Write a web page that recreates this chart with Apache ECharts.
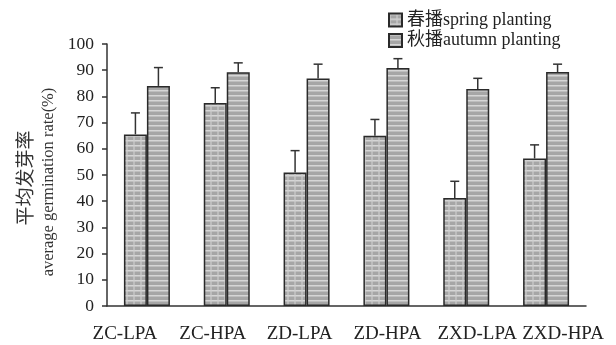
<!DOCTYPE html>
<html><head><meta charset="utf-8">
<script src="https://cdn.jsdelivr.net/npm/echarts@6/dist/echarts.min.js"></script>
<style>html,body{margin:0;padding:0;background:#fff}#c{width:616px;height:345px}</style>
</head><body><div id="c"></div>
<script>
var categories = ['ZC-LPA','ZC-HPA','ZD-LPA','ZD-HPA','ZXD-LPA','ZXD-HPA'];
var spring = [65.5, 77.5, 51.0, 65.0, 41.2, 56.3];
var springErr = [8.2, 5.8, 8.3, 6.2, 6.4, 5.2];
var autumn = [84.0, 89.2, 86.8, 90.8, 82.8, 89.3];
var autumnErr = [7.0, 3.6, 5.5, 3.6, 4.1, 3.0];
var yTicks = [0,10,20,30,40,50,60,70,80,90,100];
var seriesNames = ['春播spring planting','秋播autumn planting'];

function makePattern(vertical){
  var c = document.createElement('canvas');
  c.width = 7; c.height = 5;
  var g = c.getContext('2d');
  g.fillStyle = '#a6a6a6'; g.fillRect(0,0,7,5);
  g.fillStyle = '#d6d6d6'; g.fillRect(0,0,7,1.5);
  if (vertical){ g.fillStyle = 'rgba(205,205,205,0.6)'; g.fillRect(0,0,2,5); }
  return c;
}
var serif = '"Liberation Serif","Noto Sans CJK SC",serif';
var BW = 23;
// label shifts (px) as placed in the original figure
var labelShift = [-22, -14, -7, 1, 11, 17];
var rich = {};
labelShift.forEach(function(s,i){
  rich['l'+i] = {fontFamily:serif, fontSize:19, color:'#222',
    padding: s >= 0 ? [0,0,0,2*s] : [0,-2*s,0,0]};
});
function errSeries(vals, errs, off){
  return {
    type:'custom', silent:true, z:1,
    data: vals.map(function(v,i){return [i, v, v+errs[i]];}),
    renderItem: function(params, api){
      var p0 = api.coord([api.value(0), api.value(1)]);
      var p1 = api.coord([api.value(0), api.value(2)]);
      var x = p0[0] + off;
      return {type:'group', children:[
        {type:'line', shape:{x1:x,y1:p0[1],x2:x,y2:p1[1]}, style:{stroke:'#333',lineWidth:1.5}},
        {type:'line', shape:{x1:x-4.5,y1:p1[1],x2:x+4.5,y2:p1[1]}, style:{stroke:'#333',lineWidth:1.5}}
      ]};
    }
  };
}
var chart = echarts.init(document.getElementById('c'));
chart.setOption({
  animation:false,
  textStyle:{fontFamily:serif},
  grid:{left:107,right:30,top:44,bottom:39},
  legend:{
    orient:'vertical', left:383, top:6, itemWidth:13, itemHeight:13, itemGap:2.5, icon:'rect',
    textStyle:{fontFamily:serif,fontSize:18,color:'#222'},
    data:seriesNames
  },
  xAxis:{
    type:'category', data:categories,
    axisLine:{lineStyle:{color:'#333',width:1.5}},
    axisTick:{inside:true,length:4,lineStyle:{color:'#333',width:1.5}},
    axisLabel:{fontFamily:serif,fontSize:19,color:'#222',margin:19,interval:0,rich:rich,
      formatter:function(v,i){return '{l'+i+'|'+v+'}';}}
  },
  yAxis:{
    type:'value', min:0, max:100, interval:10,
    axisLine:{show:true,lineStyle:{color:'#333',width:1.5}},
    axisTick:{show:true,length:5,lineStyle:{color:'#333',width:1.5}},
    splitLine:{show:false},
    axisLabel:{fontFamily:serif,fontSize:17.5,color:'#222',margin:13,
      formatter:function(v){return yTicks.indexOf(v)>=0?String(v):'';}}
  },
  graphic:[
    {type:'text', rotation:Math.PI/2, position:[25,178],
      style:{text:'平均发芽率', font:'19px "Noto Sans CJK SC"', fill:'#333', textAlign:'center', textVerticalAlign:'middle'}},
    {type:'text', rotation:Math.PI/2, position:[49,182],
      style:{text:'average germination rate(%)', font:'16.5px "Liberation Serif"', fill:'#333', textAlign:'center', textVerticalAlign:'middle'}}
  ],
  series:[
    {name:seriesNames[0], type:'bar', data:spring, barWidth:BW, barGap:'0%', z:2,
      itemStyle:{color:{image:makePattern(true),repeat:'repeat'}, borderColor:'#2a2a2a', borderWidth:1.5}},
    {name:seriesNames[1], type:'bar', data:autumn, barWidth:BW, barGap:'0%', z:2,
      itemStyle:{color:{image:makePattern(false),repeat:'repeat'}, borderColor:'#2a2a2a', borderWidth:1.5}},
    errSeries(spring, springErr, -BW/2),
    errSeries(autumn, autumnErr, BW/2)
  ]
});
</script></body></html>
